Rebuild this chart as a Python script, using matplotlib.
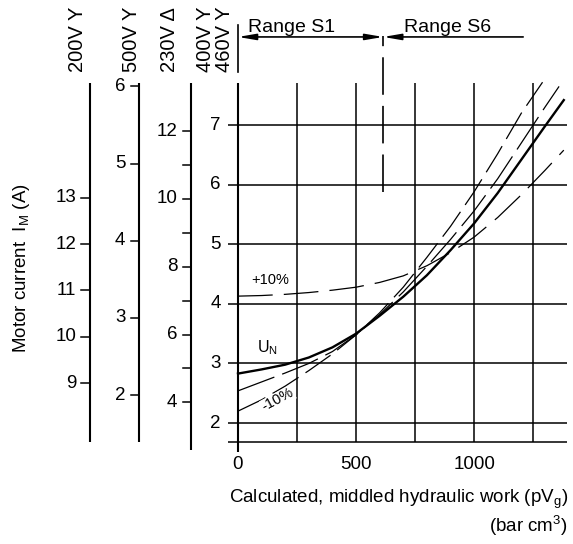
import matplotlib
matplotlib.use("Agg")
import matplotlib.pyplot as plt
from matplotlib.patches import FancyArrowPatch

plt.rcParams['font.family'] = ['Liberation Sans', 'DejaVu Sans']
plt.rcParams['mathtext.default'] = 'regular'
plt.rcParams['lines.scale_dashes'] = False

# Curves: hydraulic work (bar cm3) vs motor current on the 400 V scale (A)
work_un = [0, 100, 200, 300, 400, 500, 600, 700, 800, 900, 1000, 1100, 1200, 1300, 1380]
current_un = [2.83, 2.90, 2.98, 3.10, 3.27, 3.50, 3.80, 4.12, 4.48, 4.90, 5.35, 5.86, 6.42, 6.98, 7.42]

work_plus10 = [0, 100, 200, 300, 400, 500, 600, 700, 800, 900, 1000, 1100, 1200, 1300, 1380]
current_plus10 = [4.13, 4.14, 4.16, 4.19, 4.23, 4.28, 4.36, 4.47, 4.64, 4.86, 5.12, 5.45, 5.83, 6.24, 6.58]

work_minus5 = [0, 100, 200, 300, 400, 500, 600, 700, 800, 900, 1000, 1100, 1200, 1300, 1360]
current_minus5 = [2.54, 2.69, 2.84, 3.00, 3.20, 3.48, 3.82, 4.20, 4.63, 5.08, 5.56, 6.10, 6.70, 7.30, 7.65]

work_minus10 = [0, 100, 200, 300, 400, 500, 600, 700, 800, 900, 1000, 1100, 1200, 1290]
current_minus10 = [2.20, 2.39, 2.62, 2.88, 3.16, 3.48, 3.85, 4.28, 4.78, 5.30, 5.88, 6.52, 7.20, 7.72]

# main scale (400V / 460V) and x axis
main_ticks = [2, 3, 4, 5, 6, 7]
x_grid = [0, 250, 500, 750, 1000, 1250]
x_labels = [0, 500, 1000]
s1_s6_limit = 615

# auxiliary current scales
ticks_200 = [9, 10, 11, 12, 13]
ticks_500 = [2, 3, 4, 5, 6]
ticks_230 = [4, 5, 6, 7, 8, 9, 10, 11, 12]
labels_230 = [4, 6, 8, 10, 12]
voltage_labels = ["200V Y", "500V Y", "230V Δ", "400V Y", "460V Y"]

# scale -> main current (slope, offset), as drawn on the sheet
map_200 = (0.7775, -4.3275)
map_500 = (1.295, -0.12)
map_230 = (0.569, 0.072)

# layout (data units of the single canvas axes)
y_top, y_bot = 7.70, 1.68
x_right = 1394
tick_len = 36

fig = plt.figure(figsize=(5.73, 5.44), dpi=100)
ax = fig.add_axes([0, 0, 1, 1])
ax.set_xlim(-1008, 1419)
ax.set_ylim(-0.03, 9.10)
ax.axis('off')

# grid of the main chart
for y in main_ticks + [y_bot]:
    ax.plot([-42, x_right], [y, y], color='k', lw=1.1, solid_capstyle='butt')
for x in x_grid[1:]:
    ax.plot([x, x], [y_bot, y_top], color='k', lw=1.1, solid_capstyle='butt')
ax.plot([0, 0], [1.51, y_top], color='k', lw=1.5, solid_capstyle='butt')
for y in main_ticks:
    ax.text(-72, y, str(y), ha='right', va='center', fontsize=13.5)
for x in x_labels:
    ax.text(x, 1.30, str(x), ha='center', va='center', fontsize=13.5)


def draw_scale(xpos, ticks, labels, mapping, ybottom):
    a, b = mapping
    ax.plot([xpos, xpos], [ybottom, y_top], color='k', lw=1.5, solid_capstyle='butt')
    for v in ticks:
        y = a * v + b
        ax.plot([xpos - tick_len, xpos], [y, y], color='k', lw=1.1)
        if v in labels:
            ax.text(xpos - tick_len - 22, y, str(v), ha='right', va='center', fontsize=13.5)


draw_scale(-627, ticks_200, ticks_200, map_200, y_bot)
draw_scale(-419, ticks_500, ticks_500, map_500, y_bot)
draw_scale(-199, ticks_230, labels_230, map_230, 1.55)

for xpos, lab in zip([-678, -449, -288, -136, -59], voltage_labels):
    ax.text(xpos, 7.89, lab, rotation=90, ha='center', va='bottom', fontsize=14.5)

# curves
ax.plot(work_un, current_un, color='k', lw=1.7)
ax.plot(work_plus10, current_plus10, color='k', lw=0.9, dashes=(25, 8))
ax.plot(work_minus5, current_minus5, color='k', lw=0.9, dashes=(28, 6))
ax.plot(work_minus10, current_minus10, color='k', lw=0.9, dashes=(22, 6))

ax.text(136, 4.40, "+10%", ha='center', va='center', fontsize=10.5)
ax.text(123, 3.26, "U$_N$", ha='center', va='center', fontsize=11.5)
ax.text(169, 2.39, "-10%", ha='center', va='center', fontsize=10.5, rotation=28,
        bbox=dict(facecolor='white', edgecolor='none', pad=0.3))

# operating ranges
y_arrow = 8.48
ax.plot([0, 0], [7.89, 8.68], color='k', lw=1.2)
ax.plot([s1_s6_limit, s1_s6_limit], [5.88, y_arrow + 0.02], color='k', lw=1.2, dashes=(27, 8))
ax.add_patch(FancyArrowPatch((0, y_arrow), (s1_s6_limit, y_arrow),
                             arrowstyle='<|-|>,head_length=1.05,head_width=0.18',
                             mutation_scale=10, lw=1.2, color='k', shrinkA=0, shrinkB=0))
ax.add_patch(FancyArrowPatch((s1_s6_limit, y_arrow), (1208, y_arrow),
                             arrowstyle='<|-,head_length=1.05,head_width=0.18',
                             mutation_scale=10, lw=1.2, color='k', shrinkA=0, shrinkB=0))
ax.text(42, 8.56, "Range S1", ha='left', va='baseline', fontsize=14)
ax.text(703, 8.56, "Range S6", ha='left', va='baseline', fontsize=14)

# axis titles
ax.text(-915, 4.60, "Motor current  I$_M$ (A)", rotation=90, ha='center', va='center', fontsize=13.5)
ax.text(1398, 0.66, "Calculated, middled hydraulic work (pV$_g$)", ha='right', va='baseline', fontsize=13.5)
ax.text(1398, 0.17, "(bar cm$^3$)", ha='right', va='baseline', fontsize=13.5)

fig.savefig("out.png", dpi=100)
